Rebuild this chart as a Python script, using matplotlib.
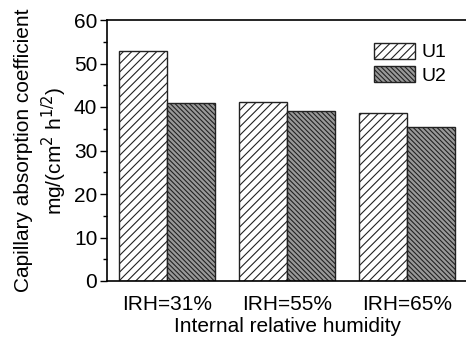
import numpy as np
import matplotlib
matplotlib.use("Agg")
import matplotlib.pyplot as plt
from matplotlib.ticker import MultipleLocator

plt.rcParams['font.family'] = ['Liberation Sans', 'DejaVu Sans']
plt.rcParams['hatch.linewidth'] = 0.8

# Données
categories = ["IRH=31%", "IRH=55%", "IRH=65%"]
u1 = [52.9, 41.2, 38.7]
u2 = [40.9, 39.0, 35.5]

x = np.arange(len(categories))
width = 0.4

fig = plt.figure(figsize=(4.66, 3.43), dpi=100)
ax = fig.add_axes([107 / 466, 1 - 281 / 343, 360 / 466, 261 / 343])

ax.bar(x - width / 2, u1, width, color='white', edgecolor='#222222',
       hatch='////', linewidth=1.0, label='U1')
ax.bar(x + width / 2, u2, width, color='#999999', edgecolor='#222222',
       hatch='\\\\\\\\\\\\\\', linewidth=1.0, label='U2')

ax.set_xlim(-0.5, 2.5)
ax.set_ylim(0, 60)
ax.set_xticks(x)
ax.set_xticklabels(categories, fontsize=15)
ax.tick_params(axis='x', length=0, pad=10)
ax.yaxis.set_major_locator(MultipleLocator(10))
ax.yaxis.set_minor_locator(MultipleLocator(5))
ax.tick_params(axis='y', which='major', direction='out', length=5, labelsize=15, width=1, pad=2)
ax.tick_params(axis='y', which='minor', direction='out', length=3, width=1)

ax.spines['right'].set_visible(False)
for s in ['left', 'bottom', 'top']:
    ax.spines[s].set_linewidth(1.2)

ax.set_xlabel("Internal relative humidity", fontsize=15, labelpad=2)
ax.set_ylabel("Capillary absorption coefficient\nmg/(cm$^2$ h$^{1/2}$)", fontsize=15,
              linespacing=1.3)
ax.yaxis.set_label_coords(-0.105, 0.5)

ax.legend(loc='upper right', bbox_to_anchor=(0.99, 0.98), frameon=False, fontsize=14,
          handlelength=2.1, handleheight=0.9, handletextpad=0.3, labelspacing=0.25)

plt.savefig("out.png", dpi=100)
plt.close()
